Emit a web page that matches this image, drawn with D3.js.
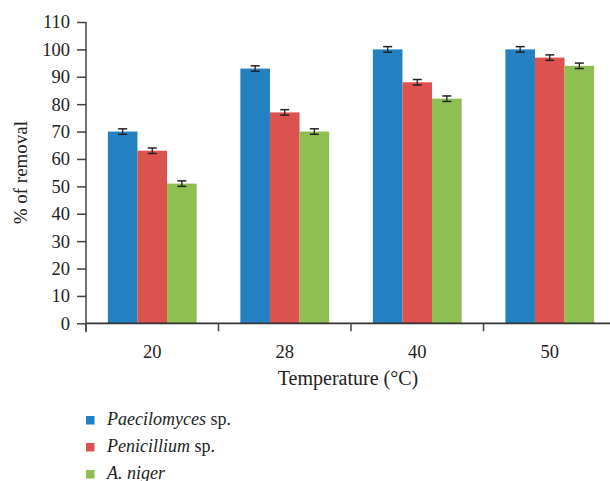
<!DOCTYPE html>
<html>
<head>
<meta charset="utf-8">
<script src="https://cdn.jsdelivr.net/npm/d3@7"></script>
<style>
  body { margin: 0; background: #fff; }
  svg { display: block; }
  text { font-family: "Liberation Serif", "DejaVu Serif", serif; fill: #222; }
</style>
</head>
<body>
<svg width="610" height="481"></svg>
<script>
var temps = ['20', '28', '40', '50'],
	species = ['Paecilomyces', 'Penicillium', 'A. niger'],
	paecilomyces = [70, 93, 100, 100],
	penicillium = [63, 77, 88, 97],
	aniger = [51, 70, 82, 94],
	errPaecilomyces = [1, 1, 1, 1],
	errPenicillium = [1, 1, 1, 1],
	errAniger = [1, 1, 1, 1],
	yTicks = [0, 10, 20, 30, 40, 50, 60, 70, 80, 90, 100, 110],
	colors = ['#2381c1', '#dd524f', '#8fbe52'];

var svg = d3.select('svg');

var series = [paecilomyces, penicillium, aniger],
	errs = [errPaecilomyces, errPenicillium, errAniger];

var x = d3.scaleBand().domain(temps).range([86, 616]).paddingInner(0.33).paddingOuter(0.165),
	xs = d3.scaleBand().domain(d3.range(3)).range([0, x.bandwidth()]),
	y = d3.scaleLinear().domain([0, 110]).range([323.3, 22]);

// band boundaries for x ticks
var bounds = d3.scaleLinear().domain([0, 4]).range([86, 616]);

// bars
var groups = svg.selectAll('g.grp')
	.data(temps)
	.enter().append('g')
	.attr('class', 'grp')
	.attr('transform', function(d){ return 'translate(' + x(d) + ',0)'; });

groups.each(function(t, i){
	var g = d3.select(this);
	series.forEach(function(s, k){
		g.append('rect')
			.attr('x', xs(k))
			.attr('y', y(s[i]))
			.attr('width', xs.bandwidth())
			.attr('height', y(0) - y(s[i]))
			.attr('fill', colors[k]);
		var cx = xs(k) + xs.bandwidth() / 2,
			hi = y(s[i] + errs[k][i]),
			lo = y(s[i] - errs[k][i]);
		g.append('line').attr('x1', cx).attr('x2', cx).attr('y1', hi).attr('y2', lo)
			.attr('stroke', '#222').attr('stroke-width', 1.3);
		g.append('line').attr('x1', cx - 4.5).attr('x2', cx + 4.5).attr('y1', hi).attr('y2', hi)
			.attr('stroke', '#222').attr('stroke-width', 1.5);
		g.append('line').attr('x1', cx - 4.5).attr('x2', cx + 4.5).attr('y1', lo).attr('y2', lo)
			.attr('stroke', '#222').attr('stroke-width', 1.5);
	});
});

// y axis
var yAxis = svg.append('g')
	.attr('transform', 'translate(86,0)')
	.call(d3.axisLeft(y).tickValues(yTicks).tickSize(9).tickPadding(7).tickSizeOuter(0));
yAxis.selectAll('text').style('font-size', '18.5px').style('font-family', '"Liberation Serif", serif').attr('fill', '#222');
yAxis.selectAll('line, path').attr('stroke', '#444').attr('stroke-width', 1.5);
yAxis.select('path').attr('d', 'M0,' + y(110) + 'V' + (y(0) + 9));

// x axis
var xAxis = svg.append('g').attr('transform', 'translate(0,' + y(0) + ')');
xAxis.append('line').attr('x1', 86).attr('x2', 616).attr('y1', 0).attr('y2', 0)
	.attr('stroke', '#333').attr('stroke-width', 1.8);
xAxis.selectAll('line.tk')
	.data(d3.range(5))
	.enter().append('line')
	.attr('class', 'tk')
	.attr('x1', function(d){ return bounds(d); })
	.attr('x2', function(d){ return bounds(d); })
	.attr('y1', 0).attr('y2', 8)
	.attr('stroke', '#444').attr('stroke-width', 1.5);
xAxis.selectAll('text.lbl')
	.data(temps)
	.enter().append('text')
	.attr('class', 'lbl')
	.attr('x', function(d){ return x(d) + x.bandwidth() / 2; })
	.attr('y', 35)
	.attr('text-anchor', 'middle')
	.style('font-size', '18.5px')
	.text(function(d){ return d; });

// axis titles
svg.append('text')
	.attr('x', 348).attr('y', 385)
	.attr('text-anchor', 'middle')
	.style('font-size', '20px')
	.text('Temperature (°C)');

svg.append('text')
	.attr('transform', 'translate(27,' + ((y(0) + y(110)) / 2) + ') rotate(-90)')
	.attr('text-anchor', 'middle')
	.style('font-size', '19px')
	.text('% of removal');

// legend
var legendLabels = [['Paecilomyces', ' sp.'], ['Penicillium', ' sp.'], ['A. niger', '']];
var leg = svg.selectAll('g.leg')
	.data(legendLabels)
	.enter().append('g')
	.attr('class', 'leg')
	.attr('transform', function(d, i){ return 'translate(86,' + (416 + i * 27) + ')'; });
leg.append('rect')
	.attr('width', 8.5).attr('height', 8.5)
	.attr('fill', function(d, i){ return colors[i]; });
var lt = leg.append('text').attr('x', 21).attr('y', 8.5).style('font-size', '18px');
lt.append('tspan').style('font-style', 'italic').text(function(d){ return d[0]; });
lt.append('tspan').text(function(d){ return d[1]; });
</script>
</body>
</html>
